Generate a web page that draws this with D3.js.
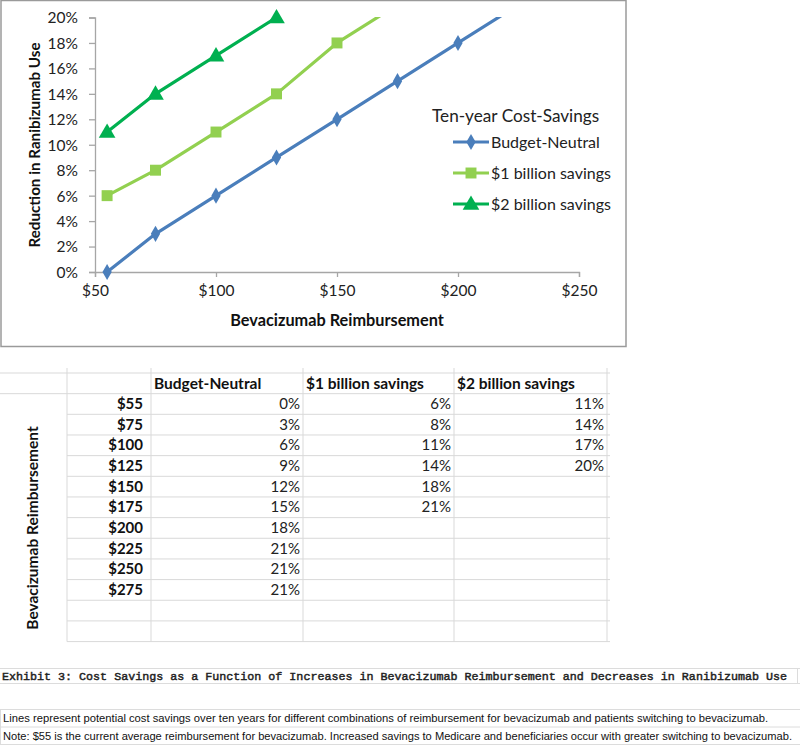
<!DOCTYPE html>
<html>
<head>
<meta charset="utf-8">
<script src="https://cdn.jsdelivr.net/npm/d3@7"></script>
<style>
  html, body { margin: 0; padding: 0; background: #fff; }
  svg { display: block; }
</style>
</head>
<body>
<svg id="chart" width="800" height="746"></svg>
<script>
// ---------------- DATA ----------------
const reimbursement = [55, 75, 100, 125, 150, 175, 200, 225, 250, 275];
const budgetNeutral = [0, 3, 6, 9, 12, 15, 18, 21, 21, 21];
const oneBillion    = [6, 8, 11, 14, 18, 21, null, null, null, null];
const twoBillion    = [11, 14, 17, 20, null, null, null, null, null, null];
const seriesNames   = ["Budget-Neutral", "$1 billion savings", "$2 billion savings"];
const xTicks        = [50, 100, 150, 200, 250];
const yTicks        = [0, 2, 4, 6, 8, 10, 12, 14, 16, 18, 20];
const legendTitle   = "Ten-year Cost-Savings";
const xTitle        = "Bevacizumab Reimbursement";
const yTitle        = "Reduction in Ranibizumab Use";
const tableRowTitle = "Bevacizumab Reimbursement";
const exhibitTitle  = "Exhibit 3: Cost Savings as a Function of Increases in Bevacizumab Reimbursement and Decreases in Ranibizumab Use";
const notes = [
  "Lines represent potential cost savings over ten years for different combinations of reimbursement for bevacizumab and patients switching to bevacizumab.",
  "Note: $55 is the current average reimbursement for bevacizumab. Increased savings to Medicare and beneficiaries occur with greater switching to bevacizumab."
];

// ---------------- STYLE ----------------
const colors  = ["#4A7EBB", "#92D050", "#00B050"];
const markers = [d3.symbolDiamond, d3.symbolSquare, d3.symbolTriangle];
const markerSizes = [75, 120, 120];
const FONT = "Lato, 'Open Sans', sans-serif";

const svg = d3.select("#chart");
const allSeries = [budgetNeutral, oneBillion, twoBillion];

// ---------------- CHART BOX ----------------
svg.append("rect").attr("x", 1).attr("y", 0.5).attr("width", 625).attr("height", 346)
  .attr("fill", "#fff").attr("stroke", "#9a9a9a").attr("stroke-width", 1.5);

const x = d3.scaleLinear().domain([50, 250]).range([95, 579]);
const y = d3.scaleLinear().domain([0, 20]).range([272, 17.5]);

// axes
const yAxis = svg.append("g").attr("transform", `translate(${x(50)},0)`)
  .call(d3.axisLeft(y).tickValues(yTicks).tickFormat(d => d + "%").tickSize(6).tickPadding(11));
const xAxis = svg.append("g").attr("transform", `translate(0,${y(0)})`)
  .call(d3.axisBottom(x).tickValues(xTicks).tickFormat(d => "$" + d).tickSize(5).tickPadding(8));
[yAxis, xAxis].forEach(g => {
  g.select(".domain").attr("stroke", "#a6a6a6").attr("stroke-width", 1.3);
  g.selectAll(".tick line").attr("stroke", "#a6a6a6").attr("stroke-width", 1.3);
  g.selectAll("text").attr("font-family", FONT).attr("font-size", 15.5).attr("fill", "#222");
});
yAxis.selectAll(".tick text").attr("dy", "0.35em");

// clip for lines
svg.append("clipPath").attr("id", "plotclip").append("rect")
  .attr("x", x(50)).attr("y", y(20) - 0.5).attr("width", x(250) - x(50)).attr("height", y(0) - y(20) + 4);

const line = d3.line()
  .defined(d => d.v !== null)
  .x(d => x(d.r)).y(d => y(d.v));

allSeries.forEach((vals, i) => {
  const pts = reimbursement.map((r, j) => ({ r, v: vals[j] }));
  svg.append("path").datum(pts)
    .attr("d", line).attr("fill", "none")
    .attr("stroke", colors[i]).attr("stroke-width", 3.2)
    .attr("stroke-linejoin", "round")
    .attr("clip-path", "url(#plotclip)");
  svg.append("g").selectAll("path")
    .data(pts.filter(d => d.v !== null && d.v <= 20 && d.r <= 250))
    .join("path")
    .attr("transform", d => `translate(${x(d.r)},${y(d.v) + (i === 2 ? 1 : 0)})`)
    .attr("d", d3.symbol().type(markers[i]).size(markerSizes[i]))
    .attr("fill", colors[i]);
});

// axis titles
svg.append("text").attr("x", 337).attr("y", 326).attr("text-anchor", "middle")
  .attr("font-family", FONT).attr("font-size", 16.3).attr("font-weight", "bold").attr("fill", "#111")
  .text(xTitle);
svg.append("text").attr("transform", "translate(40,145) rotate(-90)").attr("text-anchor", "middle")
  .attr("font-family", FONT).attr("font-size", 15.2).attr("font-weight", "bold").attr("fill", "#111")
  .text(yTitle);

// legend
svg.append("text").attr("x", 432).attr("y", 122)
  .attr("font-family", FONT).attr("font-size", 17.2).attr("fill", "#222").text(legendTitle);
const legY = [142, 173, 204];
seriesNames.forEach((name, i) => {
  const g = svg.append("g");
  g.append("line").attr("x1", 453).attr("x2", 489).attr("y1", legY[i]).attr("y2", legY[i])
    .attr("stroke", colors[i]).attr("stroke-width", 3.2);
  g.append("path").attr("transform", `translate(471,${legY[i] + (i === 2 ? 1 : 0)})`)
    .attr("d", d3.symbol().type(markers[i]).size(markerSizes[i])).attr("fill", colors[i]);
  g.append("text").attr("x", 491).attr("y", legY[i]).attr("dy", "0.35em")
    .attr("font-family", FONT).attr("font-size", 16).attr("fill", "#222").text(name);
});

// ---------------- TABLE ----------------
const gridColor = "#d9d9d9";
const rowLines = d3.range(14).map(k => 373 + k * 20.66);
const colX = [67, 151, 303, 454, 607];
const tbl = svg.append("g");
rowLines.forEach((ry, k) => {
  tbl.append("line").attr("x1", k < 2 ? 0 : colX[0]).attr("x2", 610)
    .attr("y1", ry).attr("y2", ry).attr("stroke", gridColor).attr("stroke-width", 1);
});
colX.forEach(cx => {
  tbl.append("line").attr("x1", cx).attr("x2", cx).attr("y1", 368).attr("y2", rowLines[13])
    .attr("stroke", gridColor).attr("stroke-width", 1);
});
// header
seriesNames.forEach((name, i) => {
  tbl.append("text").attr("x", colX[i + 1] + 3).attr("y", rowLines[0] + 15.5)
    .attr("font-family", FONT).attr("font-size", 15.5).attr("font-weight", "bold").attr("fill", "#111")
    .text(name);
});
// rows
reimbursement.forEach((r, j) => {
  const by = rowLines[j + 1] + 15.5;
  tbl.append("text").attr("x", 143).attr("y", by).attr("text-anchor", "end")
    .attr("font-family", FONT).attr("font-size", 15).attr("font-weight", "bold").attr("fill", "#111")
    .text("$" + r);
  allSeries.forEach((vals, i) => {
    if (vals[j] === null) return;
    tbl.append("text").attr("x", colX[i + 2] - 3).attr("y", by).attr("text-anchor", "end")
      .attr("font-family", FONT).attr("font-size", 15).attr("fill", "#222")
      .text(vals[j] + "%");
  });
});
tbl.append("text").attr("transform", "translate(38,528) rotate(-90)").attr("text-anchor", "middle")
  .attr("font-family", FONT).attr("font-size", 15.5).attr("font-weight", "bold").attr("fill", "#111")
  .text(tableRowTitle);

// ---------------- EXHIBIT / NOTES ----------------
svg.append("line").attr("x1", 0).attr("x2", 800).attr("y1", 668.5).attr("y2", 668.5).attr("stroke", "#dcdcdc");
svg.append("line").attr("x1", 0).attr("x2", 800).attr("y1", 683.5).attr("y2", 683.5).attr("stroke", "#dcdcdc");
svg.append("line").attr("x1", 797.5).attr("x2", 797.5).attr("y1", 668).attr("y2", 684).attr("stroke", "#dcdcdc");
svg.append("text").attr("x", 2).attr("y", 680)
  .attr("font-family", "'Liberation Mono', 'DejaVu Sans Mono', monospace").attr("font-size", 11.7)
  .attr("fill", "#222").attr("stroke", "#222").attr("stroke-width", 0.45)
  .attr("textLength", 785).attr("lengthAdjust", "spacing")
  .text(exhibitTitle);

[709.5, 727, 744.5].forEach(ly => {
  svg.append("line").attr("x1", 0).attr("x2", 800).attr("y1", ly).attr("y2", ly).attr("stroke", "#dcdcdc");
});
svg.append("line").attr("x1", 0.5).attr("x2", 0.5).attr("y1", 709).attr("y2", 745).attr("stroke", "#dcdcdc");
const noteW = [765, 789];
notes.forEach((t, k) => {
  svg.append("text").attr("x", 3).attr("y", 722 + k * 17.5)
    .attr("font-family", "'Liberation Sans', Arial, sans-serif").attr("font-size", 11)
    .attr("fill", "#111").attr("textLength", noteW[k]).attr("lengthAdjust", "spacingAndGlyphs")
    .text(t);
});
</script>
</body>
</html>
